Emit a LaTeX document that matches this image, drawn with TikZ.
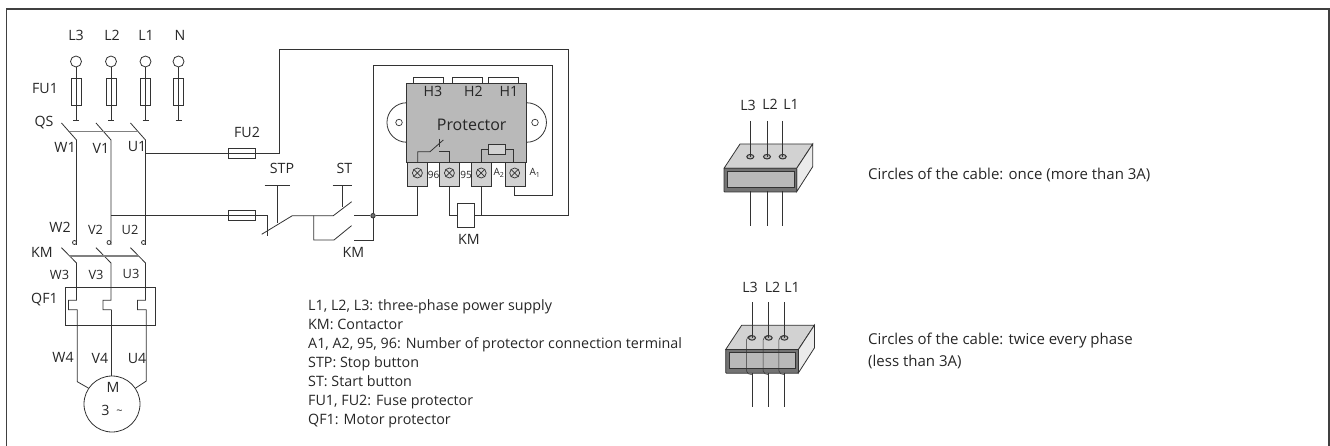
\documentclass[tikz,border=0pt]{standalone}
\usepackage{fontspec}
\setmainfont{Open Sans}
\usetikzlibrary{shapes.geometric}
\definecolor{wire}{HTML}{333333}
\definecolor{linkgray}{HTML}{808080}
\definecolor{bodygray}{HTML}{B9B9B9}
\definecolor{termgray}{HTML}{D2D2D2}
\tikzset{
  wireline/.style={draw=wire,line width=0.8pt},
  linkline/.style={draw=linkgray,line width=1.2pt},
  tag/.style={text=black!85,inner sep=0pt,font=\fontsize{14.2}{16}\selectfont},
  smalltag/.style={text=black!85,inner sep=0pt,font=\fontsize{12.8}{14}\selectfont},
  tinytag/.style={text=black!85,inner sep=0pt,font=\fontsize{10}{12}\selectfont},
  note/.style={text=black!85,inner sep=0pt,anchor=base west,font=\fontsize{14.3}{17}\selectfont},
  bignote/.style={text=black!85,inner sep=0pt,anchor=base west,font=\fontsize{15}{18}\selectfont},
  fusebox/.style={draw=wire,line width=0.8pt,rectangle,inner sep=0pt},
  inpin/.style={draw=wire,line width=0.8pt,circle,fill=white,inner sep=0pt,minimum size=11pt},
  termbox/.style={draw=wire,line width=0.8pt,fill=termgray,rectangle,inner sep=0pt,minimum width=20pt,minimum height=23.4pt},
  screw/.style={draw=wire,line width=0.7pt,circle,fill=termgray,inner sep=0pt,minimum size=10pt},
  cablehole/.style={draw=wire,line width=1pt,ellipse,fill=bodygray,inner sep=0pt,minimum width=7pt,minimum height=4.5pt},
}
\begin{document}
\begin{tikzpicture}[x=1pt,y=-1pt]
  \useasboundingbox (0,0) rectangle (1330,446);
  % frame, open at the bottom
  \coordinate (frameA) at (6.5,446);
  \coordinate (frameB) at (6.5,9);
  \coordinate (frameC) at (1329,9);
  \coordinate (frameD) at (1329,446);
  \draw[draw=black!75,line width=1.5pt] (frameA) -- (frameB) -- (frameC) -- (frameD);

  % supply pins and FU1
  \foreach \ph/\x/\lx in {L3/76/76,L2/111/112,L1/145.5/146,N/178.5/180}{
    \node[tag] (lbl\ph) at (\lx,35) {\ph};
    \node[inpin] (pin\ph) at (\x,61.5) {};
    \node[fusebox,minimum width=10pt,minimum height=27pt] (fu\ph) at (\x,91.5) {};
    \coordinate (tail\ph) at (\x,120);
    \draw[wireline] (pin\ph) -- (tail\ph);
    \draw[wireline] ([xshift=-3pt]tail\ph) -- ([xshift=3pt]tail\ph);
  }

  % main circuit, one loop per phase
  \foreach \ph/\x/\dx in {W/76.5/0.8,V/111/0.5,U/145.5/0.8}{
    \coordinate (qsA\ph) at (\x-15,123);
    \coordinate (qsB\ph) at (\x,140);
    \coordinate (contact\ph) at (\x,245);
    \coordinate (kmA\ph) at (\x-15,247.7);
    \coordinate (kmB\ph) at (\x,263);
    \coordinate (qfA\ph) at (\x,300.3);
    \coordinate (qfB\ph) at (\x-8,300.3);
    \coordinate (qfC\ph) at (\x-8,309.7);
    \coordinate (qfD\ph) at (\x+\dx,309.7);
    \draw[wireline] (qsA\ph) -- (qsB\ph) -- (contact\ph);
    \draw[wireline] (\x-2,242.5) circle (2);
    \draw[wireline] (kmA\ph) -- (kmB\ph) -- (qfA\ph) -- (qfB\ph) -- (qfC\ph) -- (qfD\ph);
  }
  \coordinate (qsLinkA) at (70,131.5);
  \coordinate (qsLinkB) at (139,131.5);
  \coordinate (kmLinkA) at (70,256);
  \coordinate (kmLinkB) at (139,256);
  \draw[linkline] (qsLinkA) -- (qsLinkB);
  \draw[linkline] (kmLinkA) -- (kmLinkB);

  % QF1
  \node[draw=wire,line width=0.8pt,rectangle,inner sep=0pt,minimum width=90pt,minimum height=38pt] (qf1) at (110.5,306) {};

  % motor
  \node[draw=wire,line width=0.8pt,circle,inner sep=0pt,minimum size=56pt] (motor) at (112,404) {};
  \coordinate (motW) at (77.3,381.7);
  \coordinate (motU) at (146.3,381);
  \draw[wireline] (qfDW) -- (motW) -- (motor.146);
  \draw[wireline] (qfDV) -- (qfDV |- motor.north);
  \draw[wireline] (qfDU) -- (motU) -- (motor.34);
  \node[tag] (motM) at (113,387.5) {M};
  \node[tag] (motT) at (112,410) {3\hspace{7pt}\raisebox{1pt}{\fontsize{11}{11}\selectfont\char"007E}};

  % labels of the main circuit
  \node[tag] (lblFU1) at (45,89) {FU1};
  \node[tag] (lblQS) at (44,123) {QS};
  \node[tag] (lblW1) at (65,147) {W1};
  \node[tag] (lblV1) at (101,148) {V1};
  \node[tag] (lblU1) at (137,147) {U1};
  \node[tag] (lblW2) at (60,227) {W2};
  \node[smalltag] (lblV2) at (95.5,230) {V2};
  \node[smalltag] (lblU2) at (130,230) {U2};
  \node[tag] (lblKM) at (42,252) {KM};
  \node[smalltag] (lblW3) at (59.5,275) {W3};
  \node[smalltag] (lblV3) at (96,275) {V3};
  \node[smalltag] (lblU3) at (131,274) {U3};
  \node[tag] (lblQF1) at (44.5,300) {QF1};
  \node[tag] (lblW4) at (63,357) {W4};
  \node[tag] (lblV4) at (100,358) {V4};
  \node[tag] (lblU4) at (137,358) {U4};

  % protector
  \node[draw=wire,line width=0.8pt,circle,inner sep=0pt,minimum size=39.5pt,fill=white] (earL) at (406.7,122.5) {};
  \node[draw=wire,line width=0.8pt,circle,inner sep=0pt,minimum size=39.5pt,fill=white] (earR) at (526.7,122.5) {};
  \node[fusebox,fill=white,minimum width=30pt,minimum height=8pt] (tabH3) at (428.3,81.3) {};
  \node[fusebox,fill=white,minimum width=30.5pt,minimum height=8pt] (tabH2) at (467.3,81.3) {};
  \node[fusebox,fill=white,minimum width=30pt,minimum height=8pt] (tabH1) at (503.7,81.3) {};
  \node[draw=wire,line width=0.8pt,fill=bodygray,rectangle,inner sep=0pt,minimum width=120pt,minimum height=79.4pt] (prot) at (466.7,123) {};
  \node[draw=wire,line width=0.7pt,circle,fill=white,inner sep=0pt,minimum size=6.5pt] (holeL) at (399,122.5) {};
  \node[draw=wire,line width=0.7pt,circle,fill=white,inner sep=0pt,minimum size=6.5pt] (holeR) at (535,122.5) {};
  \node[text=black!85,inner sep=0pt,font=\fontsize{16}{18}\selectfont] (protTxt) at (471.7,125) {Protector};
  \node[tag] (lblH3) at (433,91) {H3};
  \node[tag] (lblH2) at (473.5,91) {H2};
  \node[tag] (lblH1) at (509,91) {H1};

  % terminals
  \foreach \tm/\x in {t96/417.7,t95/449.7,tA2/481.5,tA1/515}{
    \node[termbox] (\tm) at (\x,174.4) {};
    \node[screw] (\tm s) at (\x-0.3,173) {};
    \draw[wire,line width=0.7pt] (\tm s.45) -- (\tm s.225);
    \draw[wire,line width=0.7pt] (\tm s.135) -- (\tm s.315);
  }
  \node[tinytag] (lbl96) at (433.5,175) {96};
  \node[tinytag] (lbl95) at (466,175) {95};
  \node[tinytag] (lblA2) at (499,173) {A\textsubscript{2}};
  \node[tinytag] (lblA1) at (535,173) {A\textsubscript{1}};

  % contact and heater inside the protector
  \coordinate (nc96) at (430,151.7);
  \coordinate (ncTip) at (443.3,140);
  \coordinate (nc95) at (439.3,151.7);
  \coordinate (ncTick) at (439.3,139);
  \coordinate (ncTickB) at (439.3,147);
  \draw[wireline] (t96.north) |- (nc96) -- (ncTip);
  \draw[wireline] (ncTick) -- (ncTickB);
  \draw[wireline] (t95.north) |- (nc95);
  \node[fusebox,fill=termgray,minimum width=17pt,minimum height=10.5pt] (heat) at (496.8,149.5) {};
  \draw[wireline] (tA2.north) |- (heat.west);
  \draw[wireline] ([xshift=-1.7pt]tA1.north) |- (heat.east);

  % control circuit
  \coordinate (u1Tap) at (145.5,153.3);
  \coordinate (v2Tap) at (111,215.7);
  \node[fusebox,minimum width=27.5pt,minimum height=10.3pt] (fu2) at (242,153.3) {};
  \node[fusebox,minimum width=27.5pt,minimum height=10.3pt] (fu3) at (242,215.7) {};
  \node[tag] (lblFU2) at (247,132) {FU2};
  \node[fusebox,fill=white,minimum width=16.6pt,minimum height=23.3pt] (kmCoil) at (466,215.3) {};
  \node[tag] (lblKMc) at (469,239) {KM};
  \coordinate (topA) at (279.3,49);
  \coordinate (topB) at (568.7,49);
  \draw[wireline] (u1Tap) -- (fu2.east) -- (fu2.east -| topA) -- (topA) -- (topB) |- (kmCoil.east);
  \draw[wireline] (tA2.south) -- (tA2.south |- kmCoil.east);
  \draw[wireline] (t95.south) |- (kmCoil.west);

  % STP and ST
  \coordinate (stpIn) at (267.3,215.7);
  \coordinate (stpOut) at (267.3,236);
  \coordinate (stpA) at (261.7,234.3);
  \coordinate (stpB) at (292.3,215.7);
  \coordinate (stA) at (333.3,215.7);
  \coordinate (stB) at (351.7,201.7);
  \coordinate (stpCap) at (277.5,185.3);
  \coordinate (stpRod) at (277.5,223.3);
  \coordinate (stCap) at (342.3,185.3);
  \coordinate (stRod) at (342.3,206.7);
  \draw[wireline] (v2Tap) -- (fu3.east) -- (stpIn) -- (stpOut);
  \draw[wireline] (stpA) -- (stpB) -- (stA) -- (stB);
  \draw[wireline] (stpCap) -- (stpRod);
  \draw[wireline] ([xshift=-12.8pt]stpCap) -- ([xshift=12.8pt]stpCap);
  \draw[wireline] (stCap) -- (stRod);
  \draw[wireline] ([xshift=-9.6pt]stCap) -- ([xshift=9.6pt]stCap);
  \node[tag] (lblSTP) at (282,168) {STP};
  \node[tag] (lblST) at (344.5,168) {ST};

  % KM hold contact and the loop to A1
  \node[draw=wire,line width=0.8pt,circle,fill=wire!70,inner sep=0pt,minimum size=4.5pt] (dot) at (373,215.7) {};
  \coordinate (gapR) at (354,215.7);
  \coordinate (holdA) at (313.7,215.7);
  \coordinate (holdB) at (313.7,240);
  \coordinate (holdC) at (334,240);
  \coordinate (holdD) at (351.5,225.7);
  \coordinate (holdE) at (354,240);
  \coordinate (loopA) at (552,65.3);
  \coordinate (loopB) at (552,195.7);
  \draw[wireline] (holdA) -- (holdB) -- (holdC) -- (holdD);
  \draw[wireline] (holdE) -| (dot);
  \draw[wireline] (gapR) -- (dot) -- (dot -| t96.south) -- (t96.south);
  \draw[wireline] (dot) |- (loopA) -- (loopB) -| ([xshift=-0.3pt]tA1.south);
  \node[tag] (lblKMh) at (353.5,252) {KM};

  % legend
  \foreach \txt/\y [count=\i] in {{L1, L2, L3: three-phase power supply}/310.5,{KM: Contactor}/329.5,
      {A1, A2, 95, 96: Number of protector connection terminal}/348.5,{STP: Stop button}/367.5,
      {ST: Start button}/386.5,{FU1, FU2: Fuse protector}/405.5,{QF1: Motor protector}/424.5}{
    \node[note] (legend\i) at (308,\y) {\txt};
  }

  % cable windows
  \foreach \bx/\by/\bn in {0/0/a,1.7/181.2/b}{
    \begin{scope}[shift={(\bx,\by)}]
      \draw[draw=wire,line width=0.8pt,fill=termgray] (740,144) -- (812.7,144) -- (796.7,168.3) -- (724,168.3) -- cycle;
      \draw[draw=wire,line width=0.8pt,fill=black!8] (812.7,144) -- (812.7,166.7) -- (796.7,191.7) -- (796.7,168.3) -- cycle;
      \draw[draw=wire,line width=0.8pt,fill=black!55,rounded corners=0.8pt] (724,168.3) rectangle (796.7,192);
      \draw[draw=black!80,line width=0.8pt,fill=bodygray] (727.3,171.3) rectangle (794,187.3);
      \foreach \ph/\x in {L3/750.3,L2/767,L1/782.7}{
        \node[cablehole] (hole\bn\ph) at (\x,156.7) {};
        \coordinate (up\bn\ph) at (\x,121);
        \coordinate (low\bn\ph) at (\x,191.5);
        \coordinate (end\bn\ph) at (\x,226);
        \draw[wireline] (up\bn\ph) -- (hole\bn\ph.center);
        \draw[wireline] (low\bn\ph) -- (end\bn\ph);
      }
    \end{scope}
  }
  \node[tag] (lblaL3) at (748,105) {L3};
  \node[tag] (lblaL2) at (770,104.5) {L2};
  \node[tag] (lblaL1) at (791,104.5) {L1};
  \node[tag] (lblbL3) at (750,287.5) {L3};
  \node[tag] (lblbL2) at (772.5,287) {L2};
  \node[tag] (lblbL1) at (792,287) {L1};

  % second winding of the lower window
  \foreach \ph in {L3,L2,L1}{
    \draw[draw=wire,line width=0.5pt] (holeb\ph.north) to[out=180,in=90] ([xshift=-1.5pt,yshift=-2pt]holeb\ph.west) -- ([xshift=-1.5pt,yshift=-33pt]holeb\ph.west) to[out=-90,in=180] ([yshift=-2pt]lowb\ph);
  }

  % notes on the right
  \node[bignote] (noteOnce) at (868,180) {Circles of the cable: once (more than 3A)};
  \node[bignote] (noteTwice) at (868,344) {Circles of the cable: twice every phase};
  \node[bignote] (noteLess) at (868,366) {(less than 3A)};
\end{tikzpicture}
\end{document}
